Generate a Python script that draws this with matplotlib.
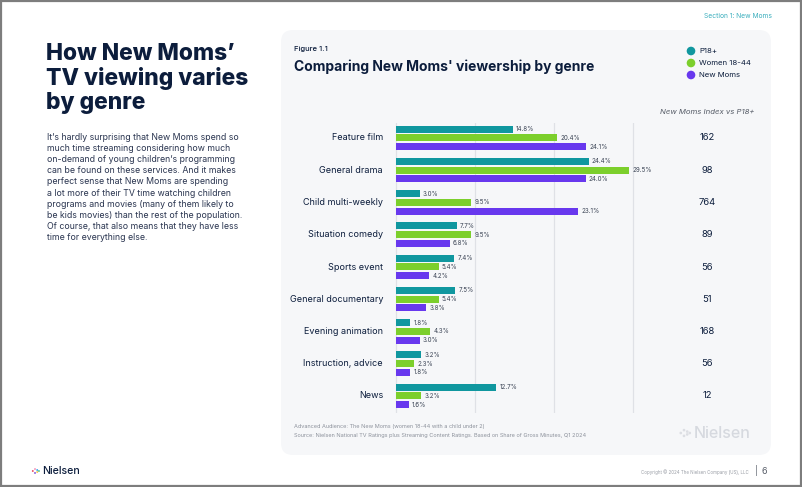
import matplotlib
matplotlib.use("Agg")
import matplotlib.pyplot as plt
from matplotlib.patches import FancyBboxPatch, Circle, Rectangle

plt.rcParams['font.family'] = ['Inter', 'DejaVu Sans']

# data
categories = ["Feature film", "General drama", "Child multi-weekly", "Situation comedy",
              "Sports event", "General documentary", "Evening animation",
              "Instruction, advice", "News"]
p18 = [14.8, 24.4, 3.0, 7.7, 7.4, 7.5, 1.8, 3.2, 12.7]
women = [20.4, 29.5, 9.5, 9.5, 5.4, 5.4, 4.3, 2.3, 3.2]
new_moms = [24.1, 24.0, 23.1, 6.8, 4.2, 3.8, 3.0, 1.8, 1.6]
moms_index = [162, 98, 764, 89, 56, 51, 168, 56, 12]
series_names = ["P18+", "Women 18-44", "New Moms"]
grid_x = [0, 10, 20, 30]

body_lines = [
    "It\u2019s hardly surprising that New Moms spend so",
    "much time streaming considering how much",
    "on-demand of young children\u2019s programming",
    "can be found on these services. And it makes",
    "perfect sense that New Moms are spending",
    "a lot more of their TV time watching children",
    "programs and movies (many of them likely to",
    "be kids movies) than the rest of the population.",
    "Of course, that also means that they have less",
    "time for everything else.",
]

TEAL = "#10979f"
GREEN = "#7ccf2c"
PURPLE = "#6838ee"
NAVY = "#0c1d3c"
colors = [TEAL, GREEN, PURPLE]

W, H = 802, 487
fig = plt.figure(figsize=(W / 100, H / 100), dpi=100)
fig.patch.set_facecolor("white")

# background axes in pixel coordinates
bg = fig.add_axes([0, 0, 1, 1])
bg.set_xlim(0, W)
bg.set_ylim(H, 0)
bg.axis("off")

bg.add_patch(Rectangle((0.5, 0.5), W - 1.5, H - 2, fill=False, ec="#7d7d7d", lw=1.6))
bg.add_patch(FancyBboxPatch((291, 40), 470, 405, boxstyle="round,pad=10,rounding_size=12",
                            fc="#f6f7f9", ec="none"))

bg.text(772, 18, "Section 1: New Moms", fontsize=4.8, color="#3aaebd", ha="right", va="baseline")

# left title and body
for i, line in enumerate(["How New Moms\u2019", "TV viewing varies", "by genre"]):
    bg.text(46, 60 + i * 24.7, line, fontsize=16.4, fontweight="heavy", color=NAVY,
            ha="left", va="baseline")
for i, line in enumerate(body_lines):
    bg.text(47, 140 + i * 11.1, line, fontsize=6.3, color="#2a3550", ha="left", va="baseline")

# chart header
bg.text(294, 51, "Figure 1.1", fontsize=5.5, fontweight="medium", color=NAVY, va="baseline")
bg.text(294, 71, "Comparing New Moms' viewership by genre", fontsize=10, fontweight="bold",
        color=NAVY, va="baseline")
for i, (name, c) in enumerate(zip(series_names, colors)):
    y = 51 + i * 12
    bg.add_patch(Circle((691, y), 3.6, color=c))
    bg.text(699, y, name, fontsize=5.6, color=NAVY, va="center")
bg.text(755, 114, "New Moms Index vs P18+", fontsize=5.6, style="italic", color="#555b66",
        ha="right", va="baseline")

# footnotes
bg.text(294, 428, "Advanced Audience: The New Moms (women 18-44 with a child under 2)",
        fontsize=4.0, color="#8d929c", va="baseline")
bg.text(294, 437, "Source: Nielsen National TV Ratings plus Streaming Content Ratings. "
        "Based on Share of Gross Minutes, Q1 2024", fontsize=4.0, color="#8d929c", va="baseline")


def nielsen_logo(x, y, size, fsize, text_color, dot_colors):
    offs = [(-1.0, 0.0), (0.0, -0.9), (0.0, 0.9), (1.0, -0.45), (1.0, 0.45), (1.8, 0.0)]
    for (dx, dy), c in zip(offs, dot_colors):
        bg.add_patch(Circle((x + dx * size, y + dy * size), size * 0.42, color=c, lw=0))
    bg.text(x + 3.2 * size, y, "Nielsen", fontsize=fsize, color=text_color,
            va="center", ha="left", fontweight="medium")


nielsen_logo(684, 433, 3.2, 11.5, "#d6d9df", ["#dcdee3"] * 6)
nielsen_logo(35, 471, 2.2, 7.6, NAVY, ["#e8445a", "#f28fb6", "#7a4bd9", "#2ca0e8", "#f5c242", "#43c08a"])

bg.text(749, 474, "Copyright \u00a9 2024 The Nielsen Company (US), LLC", fontsize=3.2,
        color="#9a9ea6", ha="right", va="baseline")
bg.text(756, 474, "|", fontsize=6, color="#555b66", ha="center", va="baseline")
bg.text(764, 474, "6", fontsize=6.5, color="#555b66", ha="center", va="baseline")

# bar chart axes: 0% at x=396 px, 7.9 px per percent; y 123..413 px
x0, scale, xmax = 396, 7.9, 31
ax = fig.add_axes([(x0 - 2 * scale * 0.1) / W, 1 - 413 / H, (xmax + 0.2) * scale / W, (413 - 123) / H])
ax.patch.set_alpha(0)
ax.set_xlim(-0.2, xmax)
ax.set_ylim(8.53, -0.46)
for s in ax.spines.values():
    s.set_visible(False)
ax.set_xticks([])
ax.set_yticks([])
for gx in grid_x:
    ax.axvline(gx, color="#dfe1e6", lw=0.9, zorder=0)

offsets = [-0.27, 0.0, 0.27]
for vals, c, off in zip([p18, women, new_moms], colors, offsets):
    ys = [i + off for i in range(len(categories))]
    ax.barh(ys, vals, height=0.22, color=c, zorder=2)
    for y, v in zip(ys, vals):
        ax.text(v + 0.4, y, f"{v:.1f}%", fontsize=4.5, color="#3b4455", va="center",
                ha="left", clip_on=False)

for i, (cat, idx) in enumerate(zip(categories, moms_index)):
    y = 138 + i * 32.25
    bg.text(383, y, cat, fontsize=6.5, color=NAVY, ha="right", va="center")
    bg.text(707, y, str(idx), fontsize=6.8, color=NAVY, ha="center", va="center")

fig.savefig("out.png", dpi=100)
